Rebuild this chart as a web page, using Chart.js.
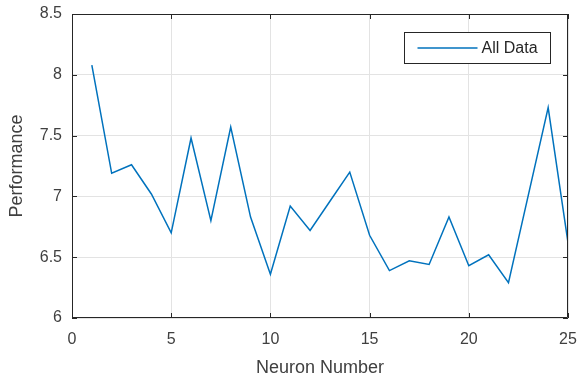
<!DOCTYPE html>
<html>
<head>
<meta charset="utf-8">
<title>Performance vs Neuron Number</title>
<script src="https://cdn.jsdelivr.net/npm/chart.js@4/dist/chart.umd.min.js"></script>
<style>
    html, body { margin: 0; padding: 0; background: #ffffff; }
    #wrap { width: 582px; height: 381px; position: relative; }
</style>
</head>
<body>
<div id="wrap"><canvas id="perf-chart"></canvas></div>
<script>
const neurons = [1, 2, 3, 4, 5, 6, 7, 8, 9, 10, 11, 12, 13, 14, 15, 16, 17, 18, 19, 20, 21, 22, 23, 24, 25];
const perfValues = [8.08, 7.19, 7.26, 7.02, 6.70, 7.48, 6.80, 7.57, 6.83, 6.36, 6.92, 6.72, 6.96, 7.20, 6.68,
                    6.39, 6.47, 6.44, 6.83, 6.43, 6.52, 6.29, 7.01, 7.73, 6.62];
const xTicks = [0, 5, 10, 15, 20, 25];
const yTicks = [6, 6.5, 7, 7.5, 8, 8.5];
const seriesName = 'All Data';

const axisColor = '#262626';
const lineColor = '#0072bd';
const fontFamily = "'Liberation Sans', Arial, Helvetica, sans-serif";

// box around the axes with small inward ticks, plus the legend in the top right corner
const axesBox = {
    id: 'axesBox',
    afterDraw(chart) {
        const ctx = chart.ctx;
        const a = chart.chartArea;
        const xs = chart.scales.x, ys = chart.scales.y;
        const len = 5;
        ctx.save();
        ctx.strokeStyle = axisColor;
        ctx.lineWidth = 1;
        ctx.beginPath();
        for (const v of xTicks) {
            const px = Math.round(xs.getPixelForValue(v)) + 0.5;
            ctx.moveTo(px, a.bottom); ctx.lineTo(px, a.bottom - len);
            ctx.moveTo(px, a.top); ctx.lineTo(px, a.top + len);
        }
        for (const v of yTicks) {
            const py = Math.round(ys.getPixelForValue(v)) + 0.5;
            ctx.moveTo(a.left, py); ctx.lineTo(a.left + len, py);
            ctx.moveTo(a.right, py); ctx.lineTo(a.right - len, py);
        }
        ctx.stroke();
        ctx.beginPath();
        ctx.rect(Math.round(a.left) + 0.5, Math.round(a.top) + 0.5,
                 Math.round(a.right - a.left) - 1, Math.round(a.bottom - a.top) - 1);
        ctx.stroke();

        // legend
        const ds = chart.data.datasets[0];
        const w = 146, h = 31;
        const lx = Math.round(a.right - 18 - w) + 0.5;
        const ly = Math.round(a.top + 18) + 0.5;
        ctx.fillStyle = '#ffffff';
        ctx.fillRect(lx, ly, w, h);
        ctx.strokeRect(lx, ly, w, h);
        ctx.strokeStyle = ds.borderColor;
        ctx.lineWidth = 1.5;
        ctx.beginPath();
        ctx.moveTo(lx + 13, ly + h / 2);
        ctx.lineTo(lx + 73, ly + h / 2);
        ctx.stroke();
        ctx.fillStyle = axisColor;
        ctx.font = '16px ' + fontFamily;
        ctx.textBaseline = 'middle';
        ctx.fillText(ds.label, lx + 77, ly + h / 2 + 1);
        ctx.restore();
    }
};

function createChart() {
    const ctx = document.getElementById('perf-chart').getContext('2d');

    new Chart(ctx, {
        type: 'line',
        data: {
            datasets: [{
                label: seriesName,
                data: neurons.map((n, i) => ({x: n, y: perfValues[i]})),
                borderColor: lineColor,
                borderWidth: 1.5,
                pointRadius: 0,
                tension: 0,
                fill: false
            }]
        },
        options: {
            responsive: true,
            maintainAspectRatio: false,
            animation: false,
            layout: {
                padding: {top: 14, right: 14, left: 0, bottom: 0}
            },
            plugins: {
                legend: {display: false},
                tooltip: {enabled: false}
            },
            scales: {
                x: {
                    type: 'linear',
                    min: 0,
                    max: 25,
                    afterBuildTicks: scale => { scale.ticks = xTicks.map(v => ({value: v})); },
                    afterFit: scale => {
                        scale.height = 63;
                        scale.paddingLeft = 0;
                        scale.paddingRight = 0;
                    },
                    grid: {color: '#e3e3e3', drawTicks: false},
                    border: {display: false},
                    ticks: {
                        color: '#404040',
                        padding: 12,
                        maxRotation: 0,
                        font: {family: fontFamily, size: 16}
                    },
                    title: {
                        display: true,
                        text: 'Neuron Number',
                        color: '#404040',
                        padding: {top: 2, bottom: 2},
                        font: {family: fontFamily, size: 18}
                    }
                },
                y: {
                    type: 'linear',
                    min: 6,
                    max: 8.5,
                    afterBuildTicks: scale => { scale.ticks = yTicks.map(v => ({value: v})); },
                    afterFit: scale => {
                        scale.width = 72;
                        scale.paddingTop = 0;
                        scale.paddingBottom = 0;
                    },
                    grid: {color: '#e3e3e3', drawTicks: false},
                    border: {display: false},
                    ticks: {
                        color: '#404040',
                        padding: 10,
                        font: {family: fontFamily, size: 16},
                        callback: v => String(v)
                    },
                    title: {
                        display: true,
                        text: 'Performance',
                        color: '#404040',
                        padding: {top: 6, bottom: 2},
                        font: {family: fontFamily, size: 18}
                    }
                }
            }
        },
        plugins: [axesBox]
    });
}

document.addEventListener('DOMContentLoaded', createChart);
</script>
</body>
</html>
